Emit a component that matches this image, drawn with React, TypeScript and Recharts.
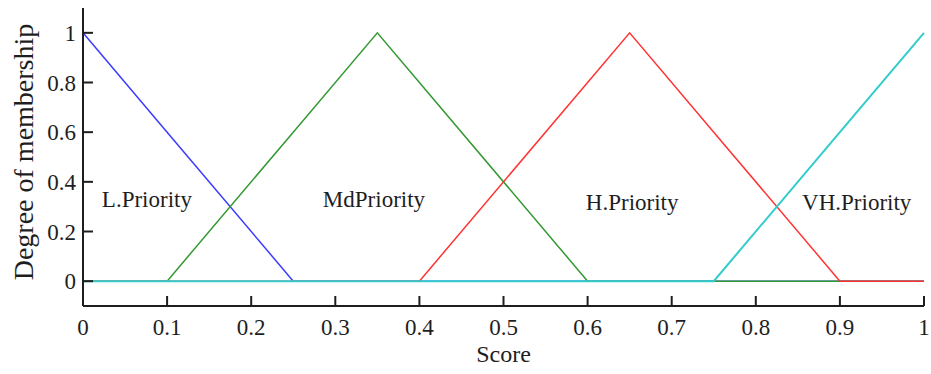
import { LineChart, Line, XAxis, YAxis, ReferenceDot } from "recharts";

// breakpoints on the score axis, shared by all membership curves
const scores = [0, 0.1, 0.25, 0.35, 0.4, 0.6, 0.65, 0.75, 0.9, 1];
const lowPriority = [1, 0.6, 0, 0, 0, 0, 0, 0, 0, 0];
const mdPriority = [0, 0, 0.6, 1, 0.8, 0, 0, 0, 0, 0];
const highPriority = [0, 0, 0, 0, 0, 0.8, 1, 0.6, 0, 0];
const vhPriority = [0, 0, 0, 0, 0, 0, 0, 0, 0.6, 1];

const xTicks = [0, 0.1, 0.2, 0.3, 0.4, 0.5, 0.6, 0.7, 0.8, 0.9, 1];
const yTicks = [0, 0.2, 0.4, 0.6, 0.8, 1];

const curveLabels = [
  { text: "L.Priority", x: 0.076, y: 0.332 },
  { text: "MdPriority", x: 0.346, y: 0.332 },
  { text: "H.Priority", x: 0.653, y: 0.32 },
  { text: "VH.Priority", x: 0.92, y: 0.32 },
];

const data = scores.map((s, i) => ({
  score: s,
  low: lowPriority[i],
  md: mdPriority[i],
  high: highPriority[i],
  vh: vhPriority[i],
}));

const FONT = "'Liberation Serif', 'Times New Roman', serif";
const INK = "#1e1e1e";
const TICK_LEN = 10;
const GAP = 13;

// ticks point inward (Mathcad style), so the tick line is drawn here
function makeTick(side: "bottom" | "top" | "left" | "right", showLabel: boolean) {
  return (props: any) => {
    const { x, y, payload } = props;
    const fmt = String(payload.value);
    if (side === "bottom") {
      const ay = y - GAP;
      return (
        <g>
          <line x1={x} x2={x} y1={ay} y2={ay - TICK_LEN} stroke={INK} strokeWidth={2} />
          {showLabel && (
            <text x={x} y={y} dy="0.71em" textAnchor="middle" fill={INK} style={{ fontSize: 23, fontFamily: FONT }}>
              {fmt}
            </text>
          )}
        </g>
      );
    }
    if (side === "top") {
      const ay = y + GAP;
      return <line x1={x} x2={x} y1={ay} y2={ay + TICK_LEN} stroke={INK} strokeWidth={2} />;
    }
    if (side === "left") {
      const ax = x + GAP;
      return (
        <g>
          <line x1={ax} x2={ax + TICK_LEN} y1={y} y2={y} stroke={INK} strokeWidth={2} />
          {showLabel && (
            <text x={x + 6} y={y} dy="0.355em" textAnchor="end" fill={INK} style={{ fontSize: 23, fontFamily: FONT }}>
              {fmt}
            </text>
          )}
        </g>
      );
    }
    const ax = x - GAP;
    return <line x1={ax} x2={ax - TICK_LEN} y1={y} y2={y} stroke={INK} strokeWidth={2} />;
  };
}

export default function App() {
  return (
    <div style={{ position: "absolute", left: 0, top: 0, background: "#fff", fontFamily: FONT }}>
      <LineChart
        width={931}
        height={374}
        data={data}
        margin={{ top: 8, right: 7, bottom: 0, left: 0 }}
        style={{ fontFamily: FONT }}
      >
        <XAxis
          dataKey="score"
          type="number"
          domain={[0, 1]}
          ticks={xTicks}
          height={68}
          tickSize={0}
          tickMargin={GAP}
          tickLine={false}
          axisLine={{ stroke: INK, strokeWidth: 2 }}
          tick={makeTick("bottom", true)}
          interval={0}
          label={{
            value: "Score",
            position: "insideBottom",
            offset: 12,
            fill: INK,
            style: { fontSize: 24, fontFamily: FONT },
          }}
        />
        <XAxis
          xAxisId="top"
          orientation="top"
          dataKey="score"
          type="number"
          domain={[0, 1]}
          ticks={xTicks}
          height={0}
          tickSize={0}
          tickMargin={GAP}
          tickLine={false}
          axisLine={{ stroke: INK, strokeWidth: 2 }}
          tick={makeTick("top", false)}
          interval={0}
        />
        <YAxis
          type="number"
          domain={[-0.1, 1.1]}
          ticks={yTicks}
          width={83}
          tickSize={0}
          tickMargin={GAP}
          tickLine={false}
          axisLine={{ stroke: INK, strokeWidth: 2 }}
          tick={makeTick("left", true)}
          interval={0}
          label={{
            value: "Degree of membership",
            angle: -90,
            position: "insideLeft",
            offset: 23,
            dy: -5,
            fill: INK,
            style: { textAnchor: "middle", fontSize: 28, fontFamily: FONT },
          }}
        />
        <YAxis
          yAxisId="right"
          orientation="right"
          type="number"
          domain={[-0.1, 1.1]}
          ticks={yTicks}
          width={0}
          tickSize={0}
          tickMargin={GAP}
          tickLine={false}
          axisLine={{ stroke: INK, strokeWidth: 2 }}
          tick={makeTick("right", false)}
          interval={0}
        />
        <Line dataKey="low" type="linear" stroke="#3b3bff" strokeWidth={1.5} dot={false} isAnimationActive={false} />
        <Line dataKey="md" type="linear" stroke="#339933" strokeWidth={1.5} dot={false} isAnimationActive={false} />
        <Line dataKey="high" type="linear" stroke="#ff3333" strokeWidth={1.5} dot={false} isAnimationActive={false} />
        <Line dataKey="vh" type="linear" stroke="#33cccc" strokeWidth={2} dot={false} isAnimationActive={false} />
        {curveLabels.map((c) => (
          <ReferenceDot
            key={c.text}
            x={c.x}
            y={c.y}
            r={0}
            stroke="none"
            fill="none"
            label={{
              value: c.text,
              position: "center",
              fill: INK,
              style: { fontSize: 23, fontFamily: FONT },
            }}
          />
        ))}
      </LineChart>
    </div>
  );
}
